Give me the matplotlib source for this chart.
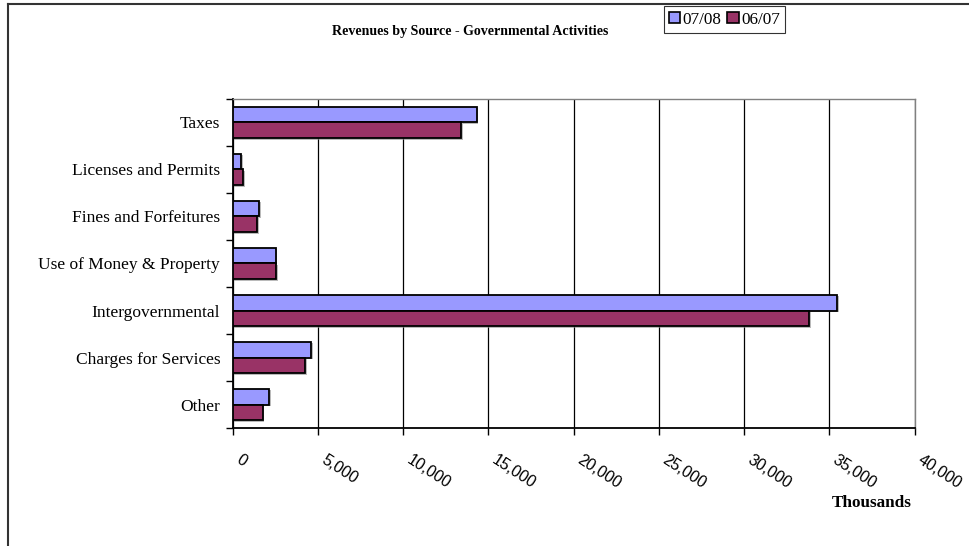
import matplotlib
matplotlib.use("Agg")
import matplotlib.pyplot as plt
import numpy as np
from matplotlib.lines import Line2D
from matplotlib.patches import Patch
import matplotlib.patheffects as pe
from matplotlib.ticker import FuncFormatter
import matplotlib.transforms as mtransforms

categories = ["Taxes", "Licenses and Permits", "Fines and Forfeitures",
              "Use of Money & Property", "Intergovernmental",
              "Charges for Services", "Other"]
series_names = ["07/08", "06/07"]
values_0708 = [14320, 510, 1560, 2520, 35450, 4600, 2140]
values_0607 = [13420, 630, 1420, 2550, 33800, 4240, 1770]
xticks = [0, 5000, 10000, 15000, 20000, 25000, 30000, 35000, 40000]
colors = ["#9999FF", "#993366"]

serif = ["Liberation Serif", "DejaVu Serif"]
sans = ["Liberation Sans", "DejaVu Sans"]

fig = plt.figure(figsize=(9.69, 5.46), dpi=100)
ax = fig.add_axes([0.2401, 0.2161, 0.9438 - 0.2401, 0.8187 - 0.2161])

y = np.arange(len(categories))
h = 0.34
shadow = [pe.SimplePatchShadow(offset=(1.2, -1.2), shadow_rgbFace="0.55", alpha=0.6), pe.Normal()]
for vals, off, col in [(values_0708, -h / 2, colors[0]), (values_0607, h / 2, colors[1])]:
    bars = ax.barh(y + off, vals, height=h, color=col, edgecolor="black", linewidth=1.3, zorder=3)
    for b in bars:
        b.set_path_effects(shadow)

ax.set_ylim(len(categories) - 0.5, -0.5)
ax.set_xlim(0, 40000)

ax.set_yticks(y)
ax.set_yticklabels(categories, fontfamily=serif, fontsize=12.5)
ax.tick_params(axis="y", which="major", length=0, pad=9)
ax.set_yticks(np.arange(-0.5, len(categories) + 0.5, 1), minor=True)
ax.tick_params(axis="y", which="minor", length=5, width=1, color="black", direction="out")

ax.set_xticks(xticks)
ax.xaxis.set_major_formatter(FuncFormatter(lambda v, p: f"{int(v):,}"))
ax.tick_params(axis="x", which="major", length=5, width=1, direction="out", pad=17)
offset = mtransforms.ScaledTranslation(5 / 100, 0, fig.dpi_scale_trans)
for lbl in ax.get_xticklabels():
    lbl.set_rotation(-33)
    lbl.set_ha("left")
    lbl.set_va("center")
    lbl.set_rotation_mode("anchor")
    lbl.set_fontfamily(sans)
    lbl.set_fontsize(11.5)
    lbl.set_transform(lbl.get_transform() + offset)

ax.grid(axis="x", color="black", linewidth=0.9, zorder=0)
ax.set_axisbelow(True)
for s in ["left", "bottom"]:
    ax.spines[s].set_color("black")
    ax.spines[s].set_linewidth(1.3)
for s in ["top", "right"]:
    ax.spines[s].set_color("#808080")
    ax.spines[s].set_linewidth(1.0)

fig.text(470 / 969, 1 - 31 / 546, "Revenues by Source - Governmental Activities",
         ha="center", va="center", fontfamily=serif, fontsize=10.1, fontweight="bold")
fig.text(872 / 969, 1 - 503 / 546, "Thousands", ha="center", va="center",
         fontfamily=serif, fontsize=12.3, fontweight="bold")

handles = [Patch(facecolor=c, edgecolor="black", linewidth=1.2) for c in colors]
leg = fig.legend(handles, series_names, loc="center", bbox_to_anchor=(724.5 / 969, 1 - 19.5 / 546),
                 ncol=2, frameon=True, fancybox=False, prop={"family": serif, "size": 12.3},
                 handlelength=0.65, handleheight=0.65, handletextpad=0.15, columnspacing=0.35,
                 borderpad=0.3, borderaxespad=0)
leg.get_frame().set_edgecolor("black")
leg.get_frame().set_linewidth(0.8)

# figure border (left and top)
fig.add_artist(Line2D([7.5 / 969, 7.5 / 969], [0, 1 - 4 / 546], transform=fig.transFigure,
                      color="#333333", linewidth=1.5))
fig.add_artist(Line2D([7.5 / 969, 1], [1 - 4 / 546, 1 - 4 / 546], transform=fig.transFigure,
                      color="#333333", linewidth=1.5))

fig.savefig("out.png", dpi=100)
